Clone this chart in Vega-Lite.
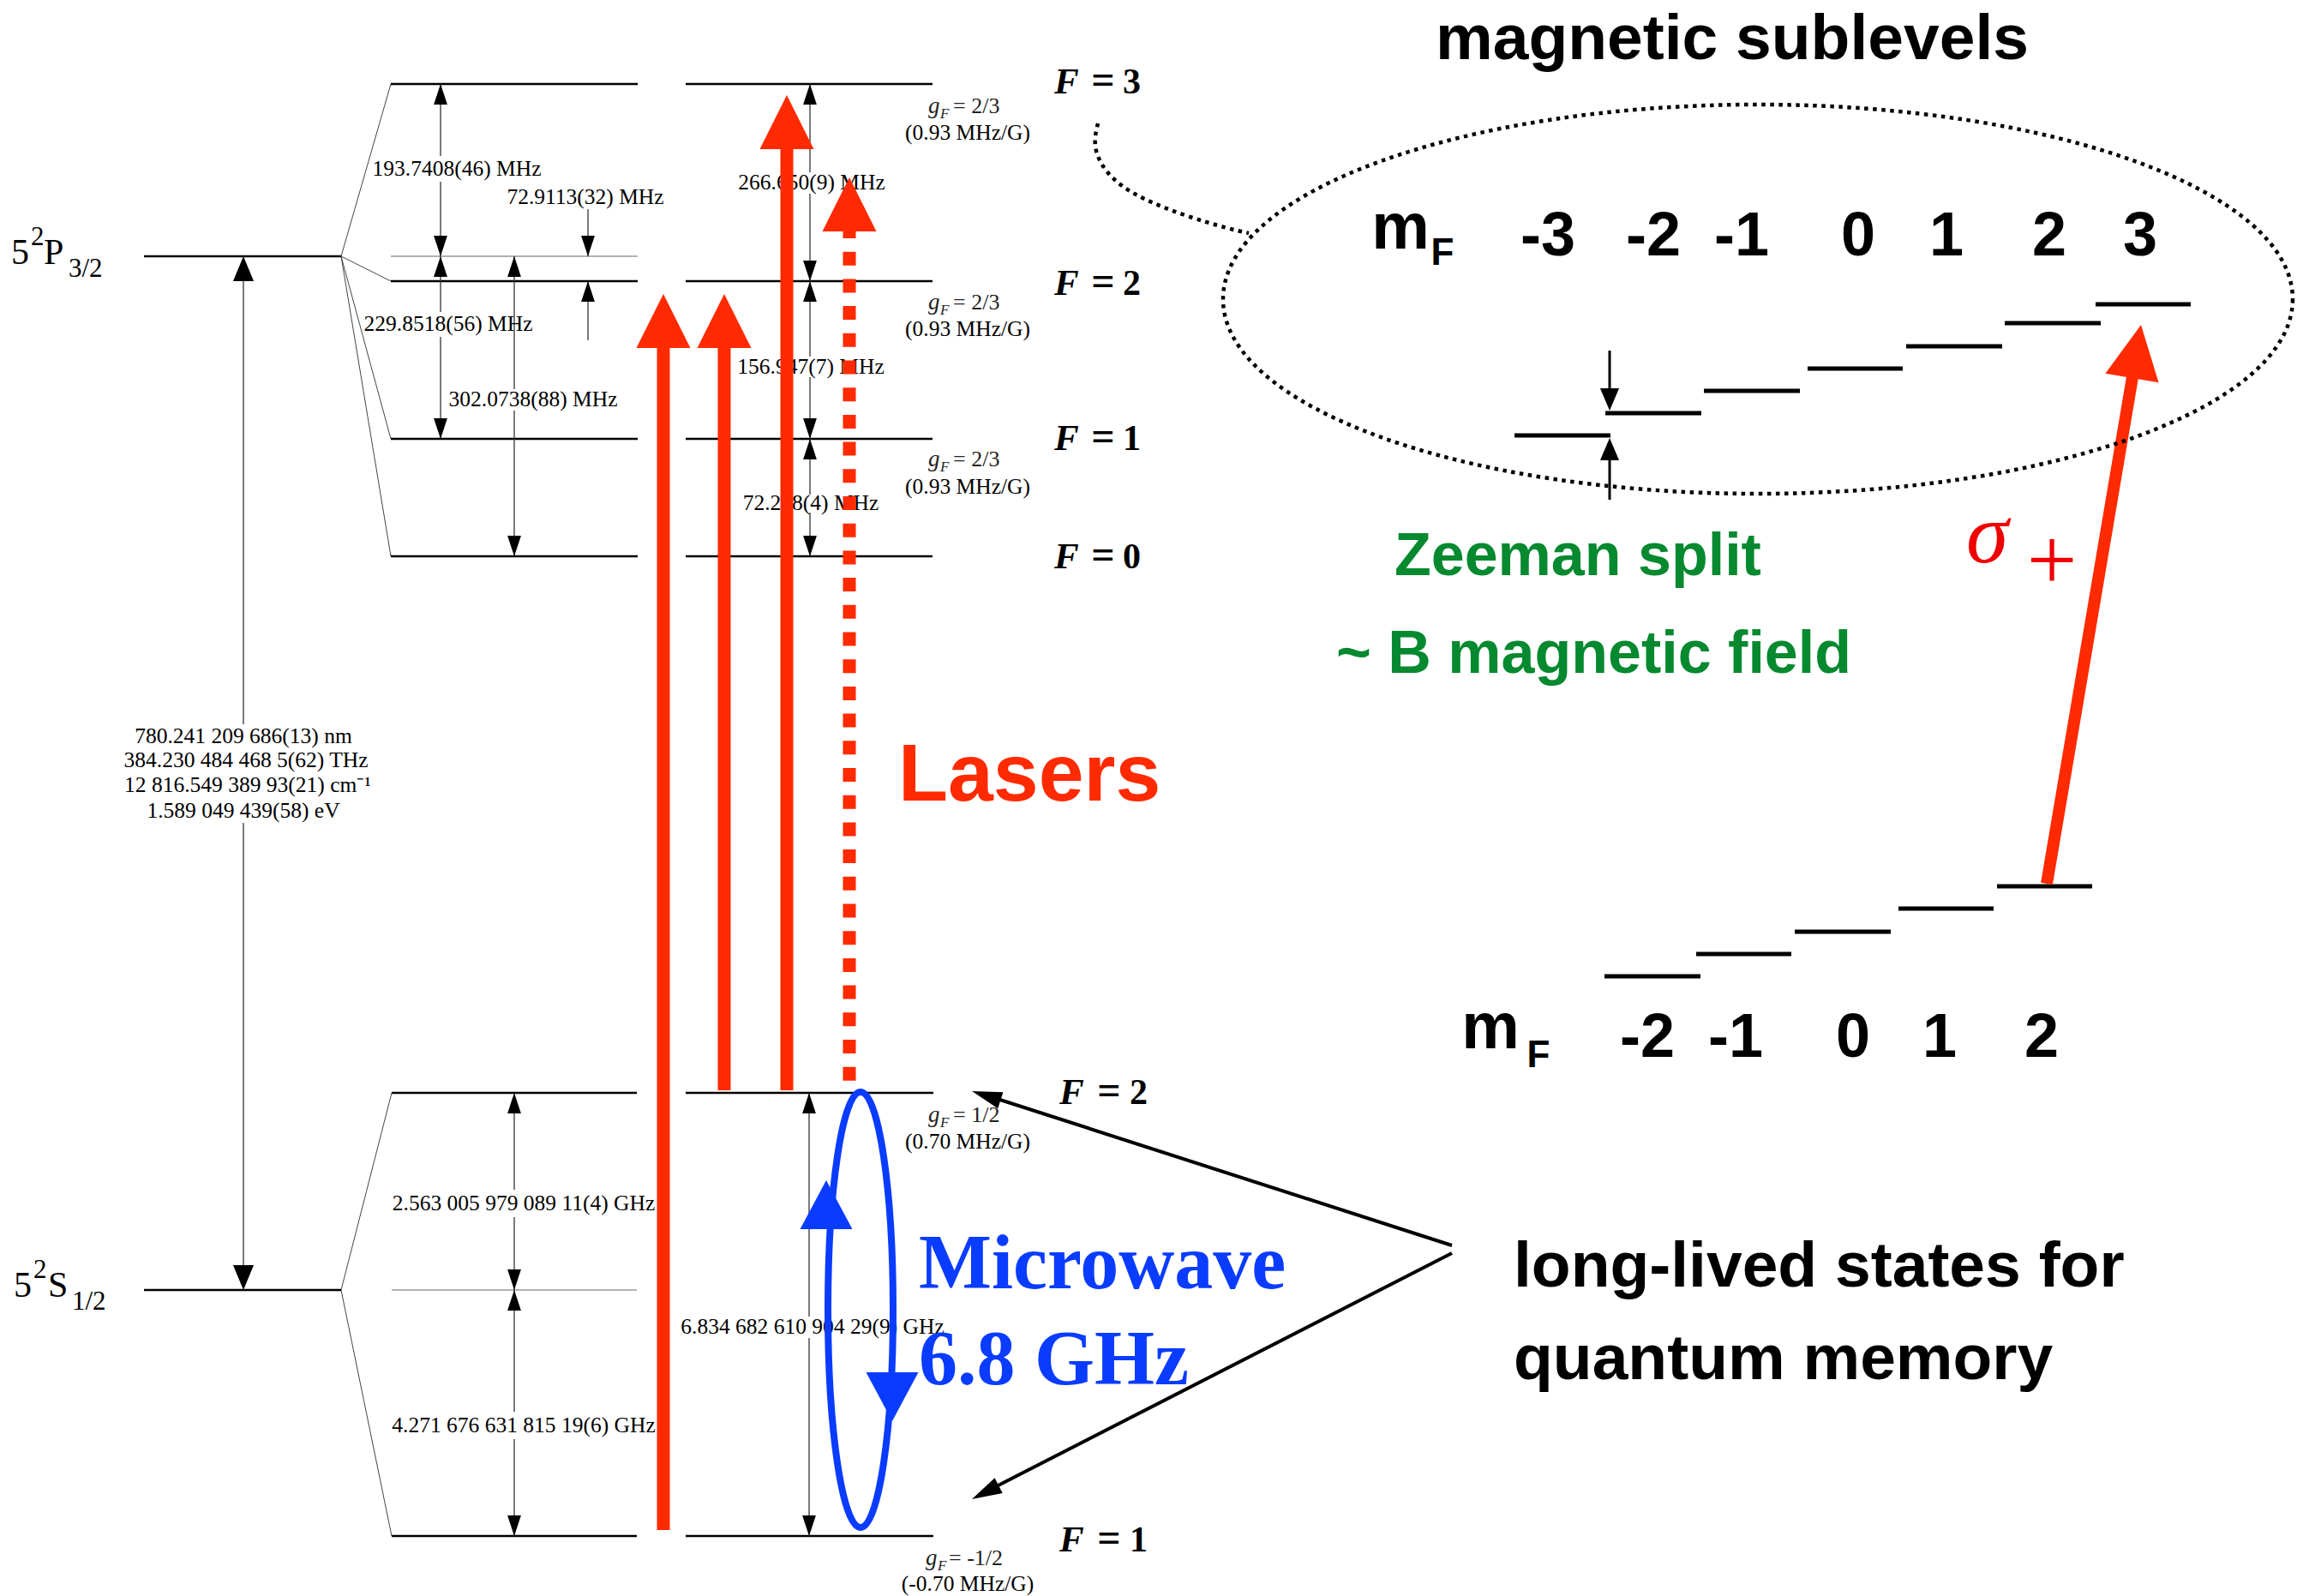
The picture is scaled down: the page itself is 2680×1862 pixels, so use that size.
{
"$schema":"https://vega.github.io/schema/vega-lite/v6.json",
"width":2680,"height":1862,
"autosize":{"type":"none"},
"padding":0,
"background":"white",
"config":{"view":{"stroke":null}},
"datasets":{
"lv":[{"x":456,"x2":744,"y":98},{"x":800,"x2":1088,"y":98},{"x":456,"x2":744,"y":328},{"x":800,"x2":1088,"y":328},{"x":456,"x2":744,"y":512},{"x":800,"x2":1088,"y":512},{"x":456,"x2":744,"y":649},{"x":800,"x2":1088,"y":649},{"x":168,"x2":398,"y":299},{"x":457,"x2":743,"y":1275},{"x":800,"x2":1089,"y":1275},{"x":457,"x2":743,"y":1792},{"x":800,"x2":1089,"y":1792},{"x":168,"x2":398,"y":1505}],
"cl":[{"x":456,"x2":744,"y":299},{"x":457,"x2":743,"y":1505}],
"fan":[{"x":398,"y":299,"x2":456,"y2":98},{"x":398,"y":299,"x2":456,"y2":328},{"x":398,"y":299,"x2":456,"y2":512},{"x":398,"y":299,"x2":456,"y2":649},{"x":398,"y":1505,"x2":457,"y2":1275},{"x":398,"y":1505,"x2":457,"y2":1792}],
"vt":[{"x":284,"y":310,"y2":845},{"x":284,"y":960,"y2":1495},{"x":514,"y":98,"y2":182},{"x":514,"y":212,"y2":299},{"x":514,"y":299,"y2":364},{"x":514,"y":393,"y2":512},{"x":600,"y":299,"y2":454},{"x":600,"y":479,"y2":649},{"x":686,"y":244,"y2":299},{"x":686,"y":328,"y2":397},{"x":945,"y":98,"y2":201},{"x":945,"y":226,"y2":328},{"x":945,"y":328,"y2":416},{"x":945,"y":440,"y2":512},{"x":945,"y":512,"y2":577},{"x":945,"y":598,"y2":649},{"x":600,"y":1275,"y2":1388},{"x":600,"y":1420,"y2":1505},{"x":600,"y":1505,"y2":1647},{"x":600,"y":1679,"y2":1792},{"x":944,"y":1275,"y2":1536},{"x":944,"y":1561,"y2":1792}],
"ahu":[{"x":514,"y":98},{"x":514,"y":299},{"x":600,"y":299},{"x":686,"y":328},{"x":945,"y":98},{"x":945,"y":328},{"x":945,"y":512},{"x":600,"y":1275},{"x":600,"y":1505},{"x":944,"y":1275}],
"ahd":[{"x":514,"y":299},{"x":514,"y":512},{"x":600,"y":649},{"x":686,"y":299},{"x":945,"y":328},{"x":945,"y":512},{"x":945,"y":649},{"x":600,"y":1505},{"x":600,"y":1792},{"x":944,"y":1792}],
"bigu":[{"x":284,"y":299}],
"bigd":[{"x":284,"y":1505}],
"lab":[{"x":533,"y":197,"t":"193.7408(46) MHz"},{"x":683,"y":230,"t":"72.9113(32) MHz"},{"x":523,"y":378,"t":"229.8518(56) MHz"},{"x":622,"y":466,"t":"302.0738(88) MHz"},{"x":947,"y":213,"t":"266.650(9) MHz"},{"x":946,"y":428,"t":"156.947(7) MHz"},{"x":946,"y":587,"t":"72.218(4) MHz"},{"x":284,"y":859,"t":"780.241 209 686(13) nm"},{"x":287,"y":887,"t":"384.230 484 468 5(62) THz"},{"x":289,"y":916,"t":"12 816.549 389 93(21) cm⁻¹"},{"x":284,"y":946,"t":"1.589 049 439(58) eV"},{"x":611,"y":1404,"t":"2.563 005 979 089 11(4) GHz"},{"x":611,"y":1663,"t":"4.271 676 631 815 19(6) GHz"},{"x":948,"y":1548,"t":"6.834 682 610 904 29(9) GHz"},{"x":1129,"y":155,"t":"(0.93 MHz/G)"},{"x":1129,"y":384,"t":"(0.93 MHz/G)"},{"x":1129,"y":568,"t":"(0.93 MHz/G)"},{"x":1129,"y":1332,"t":"(0.70 MHz/G)"},{"x":1129,"y":1848,"t":"(-0.70 MHz/G)"}],
"gf":[{"x":1083,"y":132,"xs":1097,"ys":138,"xe":1112,"t":"= 2/3"},{"x":1083,"y":361,"xs":1097,"ys":367,"xe":1112,"t":"= 2/3"},{"x":1083,"y":544,"xs":1097,"ys":550,"xe":1112,"t":"= 2/3"},{"x":1083,"y":1309,"xs":1097,"ys":1315,"xe":1112,"t":"= 1/2"},{"x":1080,"y":1826,"xs":1094,"ys":1832,"xe":1107,"t":"= -1/2"}],
"fl":[{"xf":1230,"xe":1287,"xd":1310,"y":109,"d":"3"},{"xf":1230,"xe":1287,"xd":1310,"y":344,"d":"2"},{"xf":1230,"xe":1287,"xd":1310,"y":525,"d":"1"},{"xf":1230,"xe":1287,"xd":1310,"y":663,"d":"0"},{"xf":1236,"xe":1294,"xd":1318,"y":1288,"d":"2"},{"xf":1236,"xe":1294,"xd":1318,"y":1810,"d":"1"}],
"stbig":[{"x":13,"y":308,"t":"5"},{"x":51,"y":308,"t":"P"},{"x":16,"y":1513,"t":"5"},{"x":56,"y":1513,"t":"S"}],
"stsm":[{"x":36,"y":286,"t":"2"},{"x":80,"y":323,"t":"3/2"},{"x":39,"y":1491,"t":"2"},{"x":84,"y":1528,"t":"1/2"}],
"laser":[{"x":774,"y":1785,"y2":400},{"x":845,"y":1272,"y2":400},{"x":918,"y":1272,"y2":168}],
"laserd":[{"x":991,"y":262,"y2":1268}],
"laserh":[{"x":774,"y":343},{"x":845,"y":343},{"x":918,"y":111},{"x":991,"y":207}],
"mw":[{"x":1004,"y":1528}],
"mwu":[{"x":964,"y":1377}],
"mwd":[{"x":1041,"y":1658}],
"ptr":[{"x":1694,"y":1453,"x2":1148,"y2":1277},{"x":1694,"y":1462,"x2":1147,"y2":1742}],
"ptrh1":[{"x":1134,"y":1273}],
"ptrh2":[{"x":1134,"y":1749}],
"mf":[{"x":1767,"x2":1879,"y":508},{"x":1873,"x2":1985,"y":482},{"x":1988,"x2":2100,"y":456},{"x":2109,"x2":2220,"y":430},{"x":2224,"x2":2336,"y":404},{"x":2339,"x2":2451,"y":377},{"x":2445,"x2":2556,"y":355},{"x":1872,"x2":1984,"y":1139},{"x":1979,"x2":2090,"y":1113},{"x":2094,"x2":2206,"y":1087},{"x":2215,"x2":2326,"y":1060},{"x":2330,"x2":2441,"y":1034}],
"zarr":[{"x":1878,"y":409,"y2":470},{"x":1878,"y":583,"y2":520}],
"zd":[{"x":1878,"y":479}],
"zu":[{"x":1878,"y":511}],
"sig":[{"x":2388,"y":1031,"x2":2488,"y2":440}],
"sigh":[{"x":2498,"y":379}],
"mag":[{"x":2051,"y":349}],
"conn":[{"i":0,"x":1281,"y":144},{"i":1,"x":1276,"y":165},{"i":2,"x":1281,"y":187},{"i":3,"x":1300,"y":212},{"i":4,"x":1332,"y":232},{"i":5,"x":1383,"y":252},{"i":6,"x":1434,"y":267},{"i":7,"x":1457,"y":272}],
"sansbig":[{"x":1675,"y":69,"t":"magnetic sublevels"},{"x":1766,"y":1501,"t":"long-lived states for"},{"x":1766,"y":1609,"t":"quantum memory"}],
"mfn":[{"x":1806,"y":298,"t":"-3"},{"x":1929,"y":298,"t":"-2"},{"x":2032,"y":298,"t":"-1"},{"x":2168,"y":298,"t":"0"},{"x":2271,"y":298,"t":"1"},{"x":2391,"y":298,"t":"2"},{"x":2497,"y":298,"t":"3"},{"x":1922,"y":1233,"t":"-2"},{"x":2025,"y":1233,"t":"-1"},{"x":2162,"y":1233,"t":"0"},{"x":2263,"y":1233,"t":"1"},{"x":2382,"y":1233,"t":"2"}],
"mm":[{"x":1634,"y":290},{"x":1739,"y":1223}],
"mfs":[{"x":1683,"y":309},{"x":1795,"y":1245}],
"green":[{"x":1627,"y":671,"t":"Zeeman split"},{"x":1559,"y":785,"t":"~ B magnetic field"}],
"lasers":[{"x":1048,"y":934,"t":"Lasers"}],
"micro":[{"x":1072,"y":1503,"t":"Microwave"},{"x":1072,"y":1615,"t":"6.8 GHz"}],
"sigma":[{"x":2294,"y":656,"t":"σ"}],
"plus":[{"x":2394,"y":688,"t":"+"}]
},
"encoding":{
"x":{"field":"x","type":"quantitative","scale":{"domain":[0,2680],"nice":false,"zero":false},"axis":null},
"y":{"field":"y","type":"quantitative","scale":{"domain":[0,1862],"nice":false,"zero":false,"reverse":true},"axis":null}
},
"layer":[
{"data":{"name":"cl"},"mark":{"type":"rule","color":"#999999","strokeWidth":1.5},"encoding":{"x2":{"field":"x2"}}},
{"data":{"name":"fan"},"mark":{"type":"rule","color":"#444444","strokeWidth":1},"encoding":{"x2":{"field":"x2"},"y2":{"field":"y2"}}},
{"data":{"name":"lv"},"mark":{"type":"rule","color":"black","strokeWidth":2.5},"encoding":{"x2":{"field":"x2"}}},
{"data":{"name":"vt"},"mark":{"type":"rule","color":"#333333","strokeWidth":1.3},"encoding":{"y2":{"field":"y2"}}},
{"data":{"name":"ahu"},"mark":{"type":"point","shape":"M 0 0 L 0.66 2 L -0.66 2 Z","size":576,"filled":true,"color":"black","opacity":1,"strokeWidth":0},"encoding":{}},
{"data":{"name":"ahd"},"mark":{"type":"point","shape":"M 0 0 L 0.66 -2 L -0.66 -2 Z","size":576,"filled":true,"color":"black","opacity":1,"strokeWidth":0},"encoding":{}},
{"data":{"name":"bigu"},"mark":{"type":"point","shape":"M 0 0 L 0.83 2 L -0.83 2 Z","size":841,"filled":true,"color":"black","opacity":1,"strokeWidth":0},"encoding":{}},
{"data":{"name":"bigd"},"mark":{"type":"point","shape":"M 0 0 L 0.83 -2 L -0.83 -2 Z","size":841,"filled":true,"color":"black","opacity":1,"strokeWidth":0},"encoding":{}},
{"data":{"name":"lab"},"mark":{"type":"text","font":"Liberation Serif","fontSize":25.5,"align":"center","baseline":"middle","color":"black"},"encoding":{"text":{"field":"t"}}},
{"data":{"name":"gf"},"mark":{"type":"text","font":"Liberation Serif","fontSize":27,"fontStyle":"italic","align":"left","baseline":"alphabetic","color":"#222222"},"encoding":{"text":{"value":"g"}}},
{"data":{"name":"gf"},"mark":{"type":"text","font":"Liberation Serif","fontSize":17,"fontStyle":"italic","align":"left","baseline":"alphabetic","color":"#222222"},"encoding":{"x":{"field":"xs","type":"quantitative"},"y":{"field":"ys","type":"quantitative"},"text":{"value":"F"}}},
{"data":{"name":"gf"},"mark":{"type":"text","font":"Liberation Serif","fontSize":26,"align":"left","baseline":"alphabetic","color":"#222222"},"encoding":{"x":{"field":"xe","type":"quantitative"},"text":{"field":"t"}}},
{"data":{"name":"fl"},"mark":{"type":"text","font":"Liberation Serif","fontSize":43,"fontStyle":"italic","fontWeight":"bold","align":"left","baseline":"alphabetic","color":"black"},"encoding":{"x":{"field":"xf","type":"quantitative"},"text":{"value":"F"}}},
{"data":{"name":"fl"},"mark":{"type":"text","font":"Liberation Serif","fontSize":48,"fontWeight":"bold","align":"center","baseline":"alphabetic","color":"black"},"encoding":{"x":{"field":"xe","type":"quantitative"},"text":{"value":"="}}},
{"data":{"name":"fl"},"mark":{"type":"text","font":"Liberation Serif","fontSize":42,"fontWeight":"bold","align":"left","baseline":"alphabetic","color":"black"},"encoding":{"x":{"field":"xd","type":"quantitative"},"text":{"field":"d"}}},
{"data":{"name":"stbig"},"mark":{"type":"text","font":"Liberation Serif","fontSize":42,"align":"left","baseline":"alphabetic","color":"black"},"encoding":{"text":{"field":"t"}}},
{"data":{"name":"stsm"},"mark":{"type":"text","font":"Liberation Serif","fontSize":31,"align":"left","baseline":"alphabetic","color":"black"},"encoding":{"text":{"field":"t"}}},
{"data":{"name":"laser"},"mark":{"type":"rule","color":"#ff2a00","strokeWidth":15},"encoding":{"y2":{"field":"y2"}}},
{"data":{"name":"laserd"},"mark":{"type":"rule","color":"#ff2a00","strokeWidth":15,"strokeDash":[16,15.7]},"encoding":{"y2":{"field":"y2"}}},
{"data":{"name":"laserh"},"mark":{"type":"point","shape":"M 0 0 L 1 2 L -1 2 Z","size":3969,"filled":true,"color":"#ff2a00","opacity":1,"strokeWidth":0},"encoding":{}},
{"data":{"name":"mw"},"mark":{"type":"point","shape":"M 0 -1 C 0.0826 -1 0.1496 -0.5523 0.1496 0 C 0.1496 0.5523 0.0826 1 0 1 C -0.0826 1 -0.1496 0.5523 -0.1496 0 C -0.1496 -0.5523 -0.0826 -1 0 -1 Z","size":258064,"filled":false,"color":"#0a3cff","opacity":1,"strokeWidth":8},"encoding":{}},
{"data":{"name":"mwu"},"mark":{"type":"point","shape":"M 0 0 L 1.07 2 L -1.07 2 Z","size":3249,"filled":true,"color":"#0a3cff","opacity":1,"strokeWidth":0},"encoding":{}},
{"data":{"name":"mwd"},"mark":{"type":"point","shape":"M 0 0 L 1.07 -2 L -1.07 -2 Z","size":3249,"filled":true,"color":"#0a3cff","opacity":1,"strokeWidth":0},"encoding":{}},
{"data":{"name":"ptr"},"mark":{"type":"rule","color":"black","strokeWidth":4},"encoding":{"x2":{"field":"x2"},"y2":{"field":"y2"}}},
{"data":{"name":"ptrh1"},"mark":{"type":"point","shape":"M 0 0 L 0.57 2 L -0.57 2 Z","size":1225,"angle":287.8,"filled":true,"color":"black","opacity":1,"strokeWidth":0},"encoding":{}},
{"data":{"name":"ptrh2"},"mark":{"type":"point","shape":"M 0 0 L 0.57 2 L -0.57 2 Z","size":1225,"angle":242.9,"filled":true,"color":"black","opacity":1,"strokeWidth":0},"encoding":{}},
{"data":{"name":"mf"},"mark":{"type":"rule","color":"black","strokeWidth":5},"encoding":{"x2":{"field":"x2"}}},
{"data":{"name":"zarr"},"mark":{"type":"rule","color":"black","strokeWidth":3},"encoding":{"y2":{"field":"y2"}}},
{"data":{"name":"zd"},"mark":{"type":"point","shape":"M 0 0 L 0.85 -2 L -0.85 -2 Z","size":676,"filled":true,"color":"black","opacity":1,"strokeWidth":0},"encoding":{}},
{"data":{"name":"zu"},"mark":{"type":"point","shape":"M 0 0 L 0.85 2 L -0.85 2 Z","size":676,"filled":true,"color":"black","opacity":1,"strokeWidth":0},"encoding":{}},
{"data":{"name":"sig"},"mark":{"type":"rule","color":"#ff2a00","strokeWidth":14},"encoding":{"x2":{"field":"x2"},"y2":{"field":"y2"}}},
{"data":{"name":"sigh"},"mark":{"type":"point","shape":"M 0 0 L 1 2 L -1 2 Z","size":3969,"angle":9.6,"filled":true,"color":"#ff2a00","opacity":1,"strokeWidth":0},"encoding":{}},
{"data":{"name":"mag"},"mark":{"type":"point","shape":"M 1 0 C 1 0.2009 0.5523 0.3638 0 0.3638 C -0.5523 0.3638 -1 0.2009 -1 0 C -1 -0.2009 -0.5523 -0.3638 0 -0.3638 C 0.5523 -0.3638 1 -0.2009 1 0 Z","size":1557504,"filled":false,"color":"black","opacity":1,"strokeWidth":4.5,"strokeDash":[4.5,5.5]},"encoding":{}},
{"data":{"name":"conn"},"mark":{"type":"line","interpolate":"basis","color":"black","strokeWidth":4.5,"strokeDash":[4.5,5.5]},"encoding":{"order":{"field":"i","type":"quantitative"}}},
{"data":{"name":"sansbig"},"mark":{"type":"text","font":"Liberation Sans","fontWeight":"bold","fontSize":75,"align":"left","baseline":"alphabetic","color":"black"},"encoding":{"text":{"field":"t"}}},
{"data":{"name":"mfn"},"mark":{"type":"text","font":"Liberation Sans","fontWeight":"bold","fontSize":72,"align":"center","baseline":"alphabetic","color":"black"},"encoding":{"text":{"field":"t"}}},
{"data":{"name":"mm"},"mark":{"type":"text","font":"Liberation Sans","fontWeight":"bold","fontSize":76,"align":"center","baseline":"alphabetic","color":"black"},"encoding":{"text":{"value":"m"}}},
{"data":{"name":"mfs"},"mark":{"type":"text","font":"Liberation Sans","fontWeight":"bold","fontSize":44,"align":"center","baseline":"alphabetic","color":"black"},"encoding":{"text":{"value":"F"}}},
{"data":{"name":"green"},"mark":{"type":"text","font":"Liberation Sans","fontWeight":"bold","fontSize":70,"align":"left","baseline":"alphabetic","color":"#06892f"},"encoding":{"text":{"field":"t"}}},
{"data":{"name":"lasers"},"mark":{"type":"text","font":"Liberation Sans","fontWeight":"bold","fontSize":95,"align":"left","baseline":"alphabetic","color":"#ff2a00"},"encoding":{"text":{"field":"t"}}},
{"data":{"name":"micro"},"mark":{"type":"text","font":"Liberation Serif","fontWeight":"bold","fontSize":90,"align":"left","baseline":"alphabetic","color":"#0a3cff"},"encoding":{"text":{"field":"t"}}},
{"data":{"name":"sigma"},"mark":{"type":"text","font":"Liberation Serif","fontStyle":"italic","fontSize":100,"align":"left","baseline":"alphabetic","color":"#ee0000"},"encoding":{"text":{"field":"t"}}},
{"data":{"name":"plus"},"mark":{"type":"text","font":"Liberation Serif","fontSize":104,"align":"center","baseline":"alphabetic","color":"#ee0000"},"encoding":{"text":{"field":"t"}}}
]
}
